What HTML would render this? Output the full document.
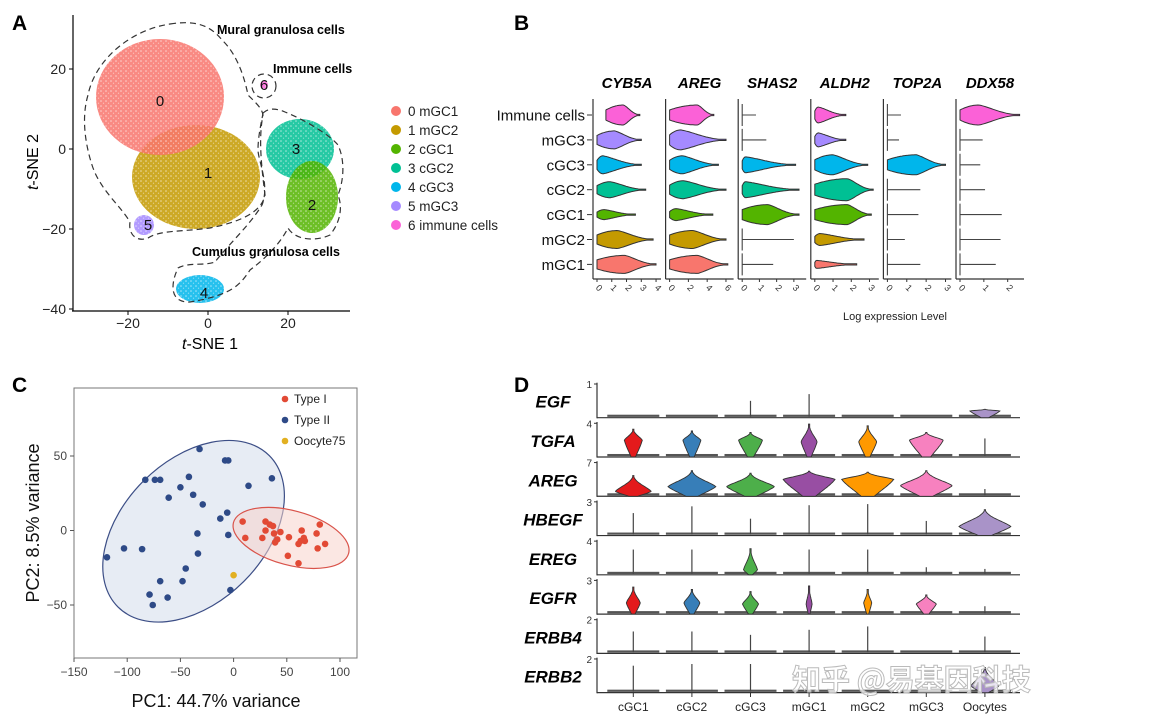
<!DOCTYPE html>
<html><head><meta charset="utf-8"><style>
html,body{margin:0;padding:0;background:#fff}
svg{display:block;font-family:"Liberation Sans","Noto Sans CJK SC",sans-serif}
</style></head><body>
<svg id="fig" width="1155" height="723" viewBox="0 0 1155 723" xmlns="http://www.w3.org/2000/svg">
<defs>
<pattern id="speckle" width="5" height="5" patternUnits="userSpaceOnUse">
<circle cx="1" cy="1" r="0.8" fill="#fff" fill-opacity="0.6"/>
<circle cx="3.5" cy="3.2" r="0.6" fill="#fff" fill-opacity="0.5"/>
</pattern>
</defs>
<rect width="1155" height="723" fill="#fff"/>
<g id="pA"></g>
<g id="pB"></g>
<g id="pC"></g>
<g id="pD"></g>
</svg>
<script>
// ---------- Panel A data ----------
const aClusterIds = ["0","1","2","3","4","5","6"];
const aClusterNames = ["0 mGC1","1 mGC2","2 cGC1","3 cGC2","4 cGC3","5 mGC3","6 immune cells"];
const aClusterColors = ["#F8766D","#C49A00","#53B400","#00C094","#00B6EB","#A58AFF","#FB61D7"];
const aCenterX = [-12, -3, 26, 23, -2, -16, 14];
const aCenterY = [13, -7, -12, 0, -35, -19, 16];
const aSpreadX = [16, 16, 6.5, 8.5, 6, 2.5, 1];
const aSpreadY = [14.5, 13, 9, 7.5, 3.5, 2.5, 1];
const aLabelX = [-12, 0, 26, 22, -1, -15, 14];
const aLabelY = [12, -6, -14, 0, -36, -19, 16];
const aTicksX = [-20, 0, 20];
const aTicksY = [20, 0, -20, -40];
// ---------- Panel B data ----------
const bGenes = ["CYB5A","AREG","SHAS2","ALDH2","TOP2A","DDX58"];
const bGeneDomain = [4.2, 6.6, 3.6, 3.4, 3.2, 2.6];
const bGeneTicks = [[0,1,2,3,4],[0,2,4,6],[0,1,2,3],[0,1,2,3],[0,1,2,3],[0,1,2]];
const bCells = ["Immune cells","mGC3","cGC3","cGC2","cGC1","mGC2","mGC1"];
const bCellColors = ["#FB61D7","#A58AFF","#00B6EB","#00C094","#53B400","#C49A00","#F8766D"];
// [min, peak, max, halfwidthPx]; halfwidth 0 = line only
const bCYB5A = [[0.6,1.8,2.9,10],[0,1.2,3,9],[0,0.4,3,9],[0,0.9,3.3,8],[0,0.5,2.6,5],[0,1.4,3.8,9],[0,1.9,4,9]];
const bAREG = [[0,3,4.7,10],[0,1.2,6,10],[0,1.4,5.2,9],[0,1.5,6,9],[0,0.7,4.6,6],[0,2.5,6,9],[0,3,6.2,9]];
const bSHAS2 = [[0,0,0.8,0],[0,0,1.4,0],[0,0.2,3.1,8],[0,0.2,3.3,8],[0,1.5,3.3,10],[0,0,3,0],[0,0,1.8,0]];
const bALDH2 = [[0,0.2,1.7,8],[0,0.2,1.7,7],[0,1,2.9,10],[0,1.8,3.2,11],[0,1.8,3.1,10],[0,0.3,2.7,6],[0,0.1,2.3,4]];
const bTOP2A = [[0,0,0.7,0],[0,0,0.6,0],[0,1.5,3,10],[0,0,1.7,0],[0,0,1.6,0],[0,0,0.9,0],[0,0,1.7,0]];
const bDDX58 = [[0,0.8,2.5,10],[0,0,0.95,0],[0,0,0.85,0],[0,0,1.05,0],[0,0,1.75,0],[0,0,1.7,0],[0,0,1.5,0]];
const bSeries = [bCYB5A,bAREG,bSHAS2,bALDH2,bTOP2A,bDDX58];
// ---------- Panel C data ----------
const cTypeIX = [8.5,30,34,37,30,44,38,11,27,41,39,52,64,78,81,66,63,61,67,86,79,51,61];
const cTypeIY = [6,6,4,3,0,-1,-2,-5,-5,-6,-8,-4.5,0,-2,4,-5,-7,-9,-7,-9,-12,-17,-22];
const cTypeIIX = [-32,-8,-5,-83,-74,-69,-42,36,14,-50,-38,-61,-29,-6,-12.5,-34,-5,-103,-86,-119,-33.5,-45,-69,-48,-3,-79,-62,-76];
const cTypeIIY = [54.7,47,47,34,34,34,36,35,30,29,24,22,17.5,12,8,-2,-3,-12,-12.5,-18,-15.5,-25.5,-34,-34,-40,-43,-45,-50];
const cOocyteX = [0];
const cOocyteY = [-30];
const cTicksX = [-150,-100,-50,0,50,100];
const cTicksY = [50,0,-50];
const cLegend = ["Type I","Type II","Oocyte75"];
// ---------- Panel D data ----------
const dGenes = ["EGF","TGFA","AREG","HBEGF","EREG","EGFR","ERBB4","ERBB2"];
const dRowMax = [1,4,7,3,4,3,2,2];
const dCells = ["cGC1","cGC2","cGC3","mGC1","mGC2","mGC3","Oocytes"];
const dColors = ["#E41A1C","#377EB8","#4DAF4A","#984EA3","#FF9900","#F781BF","#A993C8"];
// [peak, max, halfwidthPx]; halfwidth 0 = line only
const dEGF = [[0,0,0],[0,0,0],[0,0.5,0],[0,0.7,0],[0,0,0],[0,0,0],[0.2,0.25,15]];
const dTGFA = [[2,3.3,9],[2,3.1,9],[2,2.9,12],[1.8,3.9,8],[1.8,3.7,9],[2,2.9,17],[0,2.2,0]];
const dAREG = [[1,4.3,18],[2,5.3,24],[2,4.8,24],[3.5,5.2,26],[3.5,5,26],[2.2,5.3,26],[0,1.5,0]];
const dHBEGF = [[0,2,0],[0,2.6,0],[0,1.5,0],[0,2.7,0],[0,2.8,0],[0,1.3,0],[0.8,2.3,26]];
const dEREG = [[0,3,0],[0,3,0],[0.6,3.1,7],[0,3,0],[0,3,0],[0,0.9,0],[0,0.7,0]];
const dEGFR = [[1,2.4,7],[1,2.2,8],[0.9,2,8],[0.9,2.5,3],[1,2.2,4],[0.9,1.7,10],[0,0.7,0]];
const dERBB4 = [[0,1.3,0],[0,1.3,0],[0,1.1,0],[0,1.4,0],[0,1.6,0],[0,0,0],[0,1,0]];
const dERBB2 = [[0,1.6,0],[0,1.7,0],[0,1.7,0],[0,0,0],[0,0,0],[0,0,0],[0.4,1.5,14]];
const dSeries = [dEGF,dTGFA,dAREG,dHBEGF,dEREG,dEGFR,dERBB4,dERBB2];

const NS="http://www.w3.org/2000/svg";
function mk(parent,tag,attrs,text){const e=document.createElementNS(NS,tag);for(const k in attrs)e.setAttribute(k,attrs[k]);if(text!==undefined)e.textContent=text;parent.appendChild(e);return e;}

function prof(v,mn,pk,mx){
  if(v<=pk){const r=pk-mn; if(r<=0) return 1; const t=(pk-v)/r; return 1-0.5*t*t;}
  const r=mx-pk; if(r<=0) return 0; const t=(v-pk)/r; return Math.max(0,Math.exp(-1.8*t*t)*Math.pow(1-t,0.8));
}

// ================= PANEL A =================
(function(){
const g=document.getElementById('pA');
const sx=v=>208+v*4, sy=v=>149-v*4;
let t=mk(g,'text',{x:12,y:30,'font-size':21,'font-weight':'bold'},'A');


const order=[1,0,3,2,4,5,6];
order.forEach(i=>{
  const e=mk(g,'ellipse',{cx:sx(aCenterX[i]),cy:sy(aCenterY[i]),rx:aSpreadX[i]*4,ry:aSpreadY[i]*4,fill:aClusterColors[i],'fill-opacity':0.85});
  
  
  const s=mk(g,'ellipse',{cx:sx(aCenterX[i]),cy:sy(aCenterY[i]),rx:aSpreadX[i]*4,ry:aSpreadY[i]*4,fill:'url(#speckle)'});
  
  
});
const dash={fill:'none',stroke:'#333','stroke-width':1.2,'stroke-dasharray':'6,4'};
let p=mk(g,'path',Object.assign({d:'M170,24 C195,20 210,25 222,40 C238,55 245,80 248,95 C255,102 262,108 263,115 C258,140 262,170 265,195 C262,212 240,222 210,228 C180,232 160,230 148,238 C138,242 128,236 130,222 C120,205 100,190 92,165 C84,140 82,115 88,95 C95,60 130,30 170,24 Z'},dash));


p=mk(g,'path',Object.assign({d:'M263,113 C268,108 276,108 285,112 C305,120 330,135 338,145 C345,160 344,180 338,195 C342,205 342,220 330,235 C315,242 295,240 288,228 C282,240 270,255 250,270 C240,285 232,295 190,302 C170,303 170,285 178,268 C188,262 205,266 215,262 C228,245 250,225 262,205 C270,185 258,160 258,150 C258,135 262,120 263,113 Z'},dash));


p=mk(g,'ellipse',Object.assign({cx:264,cy:86,rx:12,ry:12},dash));


aClusterIds.forEach((id,i)=>{
  const l=mk(g,'text',{x:sx(aLabelX[i]),y:sy(aLabelY[i])+5,'font-size':15,'text-anchor':'middle',fill:'#111'},id);
  
  
});
[['Mural granulosa cells',217,34,'mural-annotation'],['Immune cells',273,73,'immune-annotation'],['Cumulus granulosa cells',192,256,'cumulus-annotation']].forEach(a=>{
  const l=mk(g,'text',{x:a[1],y:a[2],'font-size':12.5,'font-weight':'bold'},a[0]);
  
  
});
let ax=mk(g,'line',{x1:73,y1:15,x2:73,y2:311,stroke:'#000','stroke-width':1.2});


ax=mk(g,'line',{x1:72,y1:311,x2:350,y2:311,stroke:'#000','stroke-width':1.2});


aTicksX.forEach(v=>{
  mk(g,'line',{x1:sx(v),y1:311,x2:sx(v),y2:315,stroke:'#000'});
  const l=mk(g,'text',{x:sx(v),y:328,'font-size':14,'text-anchor':'middle',fill:'#222'},v<0?'\u2212'+(-v):v);
  
  
});
aTicksY.forEach(v=>{
  mk(g,'line',{x1:69,y1:sy(v),x2:73,y2:sy(v),stroke:'#000'});
  const l=mk(g,'text',{x:66,y:sy(v)+5,'font-size':14,'text-anchor':'end',fill:'#222'},v<0?'\u2212'+(-v):v);
  
  
});
t=mk(g,'text',{x:210,y:349,'font-size':16,'text-anchor':'middle'});
t.innerHTML='<tspan font-style="italic">t</tspan>-SNE 1';


t=mk(g,'text',{x:0,y:0,'font-size':16,'text-anchor':'middle',transform:'translate(38,162) rotate(-90)'});
t.innerHTML='<tspan font-style="italic">t</tspan>-SNE 2';


aClusterNames.forEach((n,i)=>{
  const lg=mk(g,'g',{});
  
  
  mk(lg,'circle',{cx:396,cy:111+i*19,r:5,fill:aClusterColors[i]});
  mk(lg,'text',{x:408,y:116+i*19,'font-size':13.5,fill:'#222'},n);
});
})();

// ================= PANEL B =================
(function(){
const g=document.getElementById('pB');
let t=mk(g,'text',{x:514,y:30,'font-size':21,'font-weight':'bold'},'B');


const rowY=i=>115+i*24.9;
bCells.forEach((c,i)=>{
  const l=mk(g,'text',{x:585,y:rowY(i)+5.5,'font-size':15,'text-anchor':'end',fill:'#111'},c);
  
  
  mk(g,'line',{x1:587,y1:rowY(i),x2:592,y2:rowY(i),stroke:'#333'});
});
bGenes.forEach((gene,gi)=>{
  const x0=593+gi*72.6;
  const sx=v=>x0+4+v*62/bGeneDomain[gi];
  const pg=mk(g,'g',{});
  
  
  const ti=mk(pg,'text',{x:x0+34,y:88,'font-size':15,'font-weight':'bold','font-style':'italic','text-anchor':'middle'},gene);
  
  
  mk(pg,'line',{x1:x0,y1:99,x2:x0,y2:279,stroke:'#333','stroke-width':1.2});
  mk(pg,'line',{x1:x0,y1:279,x2:x0+68,y2:279,stroke:'#333','stroke-width':1.2});
  bGeneTicks[gi].forEach(v=>{
    mk(pg,'line',{x1:sx(v),y1:279,x2:sx(v),y2:282,stroke:'#333'});
    const l=mk(pg,'text',{x:0,y:0,'font-size':9,'text-anchor':'middle',fill:'#333',transform:'translate('+sx(v)+',290) rotate(45)'},v);
    
    
  });
  bSeries[gi].forEach((d,ci)=>{
    const cy=rowY(ci);
    const [mn,pk,mx,hw]=d;
    if(hw===0){
      const ln=mk(pg,'path',{d:'M'+sx(0)+','+(cy-11)+'V'+(cy+11)+'M'+sx(0)+','+cy+'H'+sx(mx),stroke:'#444','stroke-width':1.1,fill:'none'});
      
      
    } else {
      const top=[],bot=[];const N=40;
      for(let k=0;k<=N;k++){const v=mn+(mx-mn)*k/N;const w=Math.max(0.6,hw*prof(v,mn,pk,mx));top.push(sx(v).toFixed(1)+','+(cy-w).toFixed(1));bot.unshift(sx(v).toFixed(1)+','+(cy+w).toFixed(1));}
      const vp=mk(pg,'path',{d:'M'+top.join('L')+'L'+bot.join('L')+'Z',fill:bCellColors[ci],stroke:'#333','stroke-width':1});
      
      
    }
  });
});
t=mk(g,'text',{x:895,y:320,'font-size':11,'text-anchor':'middle',fill:'#222'},'Log expression Level');


})();

// ================= PANEL C =================
(function(){
const g=document.getElementById('pC');
const sx=v=>233.6+v*1.064, sy=v=>530.5-v*1.49;
let t=mk(g,'text',{x:12,y:392,'font-size':21,'font-weight':'bold'},'C');


let b=mk(g,'rect',{x:74,y:388,width:283,height:270,fill:'#fff',stroke:'#777','stroke-width':1});


let e=mk(g,'ellipse',{cx:sx(-37.6),cy:sy(-0.5),rx:107,ry:71,transform:'rotate(-45 '+sx(-37.6)+' '+sy(-0.5)+')',fill:'#dfe5f0','fill-opacity':0.75,stroke:'#3C4E86','stroke-width':1.2});


e=mk(g,'ellipse',{cx:sx(54),cy:sy(-5),rx:59.6,ry:27.2,transform:'rotate(15 '+sx(54)+' '+sy(-5)+')',fill:'#f7d4cc','fill-opacity':0.55,stroke:'#D9534A','stroke-width':1.2});


cTypeIIX.forEach((x,i)=>{const c=mk(g,'circle',{cx:sx(x),cy:sy(cTypeIIY[i]),r:3.3,fill:'#2E4A87'});
  
  });
cTypeIX.forEach((x,i)=>{const c=mk(g,'circle',{cx:sx(x),cy:sy(cTypeIY[i]),r:3.3,fill:'#E24A35'});
  
  });
cOocyteX.forEach((x,i)=>{const c=mk(g,'circle',{cx:sx(x),cy:sy(cOocyteY[i]),r:3.3,fill:'#E2B021'});
  
  });
cTicksX.forEach(v=>{
  mk(g,'line',{x1:sx(v),y1:658,x2:sx(v),y2:662,stroke:'#555'});
  const l=mk(g,'text',{x:sx(v),y:676,'font-size':12,'text-anchor':'middle',fill:'#444'},v<0?'\u2212'+(-v):v);
  
  
});
cTicksY.forEach(v=>{
  mk(g,'line',{x1:70,y1:sy(v),x2:74,y2:sy(v),stroke:'#555'});
  const l=mk(g,'text',{x:67,y:sy(v)+4,'font-size':12,'text-anchor':'end',fill:'#444'},v<0?'\u2212'+(-v):v);
  
  
});
const lc=['#E24A35','#2E4A87','#E2B021'];
cLegend.forEach((n,i)=>{
  const lg=mk(g,'g',{});
  
  
  mk(lg,'circle',{cx:285,cy:399+i*21,r:3.3,fill:lc[i]});
  mk(lg,'text',{x:294,y:403+i*21,'font-size':12,fill:'#222'},n);
});
t=mk(g,'text',{x:216,y:707,'font-size':18,'text-anchor':'middle',fill:'#111'},'PC1: 44.7% variance');


t=mk(g,'text',{x:0,y:0,'font-size':18,'text-anchor':'middle',fill:'#111',transform:'translate(39,523) rotate(-90)'},'PC2: 8.5% variance');


})();

// ================= PANEL D =================
(function(){
const g=document.getElementById('pD');
let t=mk(g,'text',{x:514,y:392,'font-size':21,'font-weight':'bold'},'D');


const base=r=>417.7+r*39.28;
const colX=c=>633.3+c*58.6;
dGenes.forEach((gene,r)=>{
  const y0=base(r);
  const sy=v=>y0-v*33.7/dRowMax[r];
  const rg=mk(g,'g',{});
  
  
  const l=mk(rg,'text',{x:553,y:y0-16+6,'font-size':17,'font-weight':'bold','font-style':'italic','text-anchor':'middle'},gene);
  
  
  mk(rg,'line',{x1:597,y1:y0-35,x2:597,y2:y0+0.6,stroke:'#333','stroke-width':1.2});
  mk(rg,'line',{x1:597,y1:y0,x2:1020,y2:y0,stroke:'#333','stroke-width':1.2});
  mk(rg,'line',{x1:594,y1:sy(dRowMax[r]),x2:597,y2:sy(dRowMax[r]),stroke:'#333'});
  const tk=mk(rg,'text',{x:592,y:sy(dRowMax[r])+4,'font-size':10,'text-anchor':'end',fill:'#333'},dRowMax[r]);
  
  
  dSeries[r].forEach((d,c)=>{
    const cx=colX(c);const [pk,mx,hw]=d;
    const bs=mk(rg,'rect',{x:cx-26,y:y0-3,width:52,height:2.2,fill:'#555'});
    
    
    if(hw===0){
      if(mx>0){const ln=mk(rg,'line',{x1:cx,y1:y0-1,x2:cx,y2:sy(mx),stroke:'#444','stroke-width':1.2});
        
        }
    } else {
      const L=[],R=[];const N=40;
      for(let k=0;k<=N;k++){const v=mx*k/N;const w=Math.max(0.6,hw*prof(v,0,pk,mx)*(v<pk?1-0.5*(pk-v)/Math.max(pk,0.01):1));L.push((cx-w).toFixed(1)+','+sy(v).toFixed(1));R.unshift((cx+w).toFixed(1)+','+sy(v).toFixed(1));}
      const vp=mk(rg,'path',{d:'M'+L.join('L')+'L'+R.join('L')+'Z',fill:dColors[c],stroke:'#333','stroke-width':0.9});
      
      
    }
  });
});
dCells.forEach((c,i)=>{
  mk(g,'line',{x1:colX(i),y1:693,x2:colX(i),y2:697,stroke:'#333'});
  const l=mk(g,'text',{x:colX(i),y:711,'font-size':12,'text-anchor':'middle',fill:'#222'},c);
  
  
});
t=mk(g,'text',{x:792,y:690,'font-size':29,'font-weight':'bold',fill:'#fff','fill-opacity':0.75,stroke:'#bbb','stroke-width':1,'font-family':'"Noto Sans CJK SC",sans-serif'},'知乎 @易基因科技');


})();
</script>
</body></html>
